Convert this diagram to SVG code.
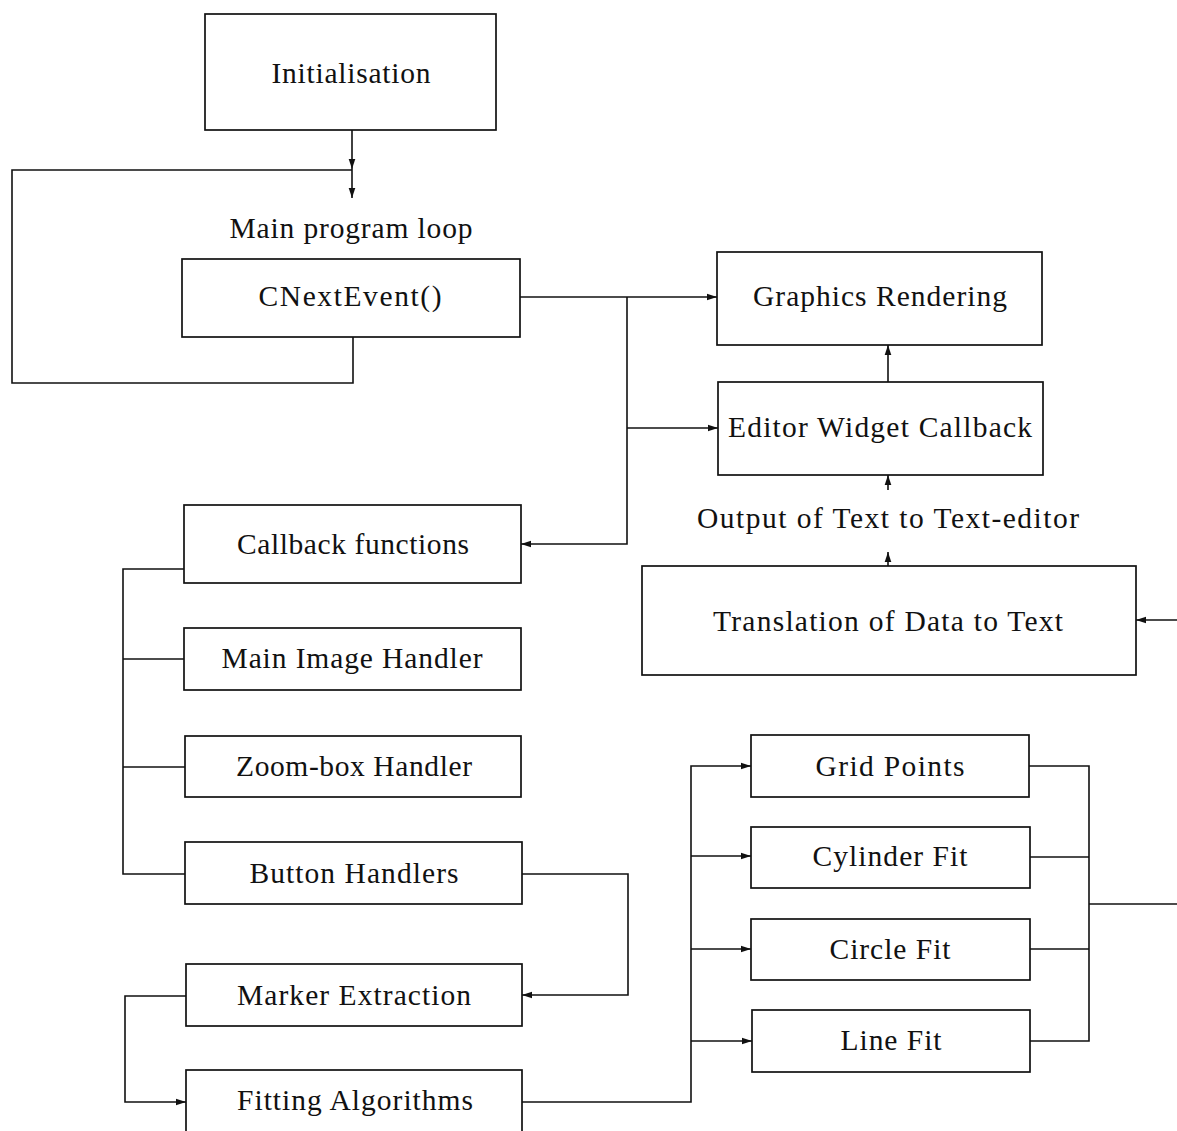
<svg xmlns="http://www.w3.org/2000/svg" width="1177" height="1131" viewBox="0 0 1177 1131">
<style>
.box{fill:#fff;stroke:#111;stroke-width:1.7}
.t{font-family:"Liberation Serif","DejaVu Serif",serif;font-size:29.5px;fill:#111;text-anchor:middle}
.c{fill:none;stroke:#111;stroke-width:1.6}
</style>
<defs>
<marker id="ah" markerUnits="userSpaceOnUse" markerWidth="11" markerHeight="8" refX="10" refY="4" orient="auto">
<path d="M0,0.7 L10,4 L0,7.3 Z" fill="#111"/>
</marker>
</defs>
<rect width="1177" height="1131" fill="#fff"/>
<g id="connectors">
<path class="c" d="M352,130 V169" marker-end="url(#ah)"/>
<path class="c" d="M352,169 V198" marker-end="url(#ah)"/>
<path class="c" d="M353,337 V383 H12 V170 H352"/>
<path class="c" d="M520,297 H717" marker-end="url(#ah)"/>
<path class="c" d="M627,297 V544 H521" marker-end="url(#ah)"/>
<path class="c" d="M627,428 H718" marker-end="url(#ah)"/>
<path class="c" d="M888,382 V345" marker-end="url(#ah)"/>
<path class="c" d="M888,490 V475" marker-end="url(#ah)"/>
<path class="c" d="M888,566 V552" marker-end="url(#ah)"/>
<path class="c" d="M1177,620 H1136" marker-end="url(#ah)"/>
<path class="c" d="M184,569 H123 V874 H185"/>
<path class="c" d="M123,659 H184"/>
<path class="c" d="M123,767 H185"/>
<path class="c" d="M522,874 H628 V995 H522" marker-end="url(#ah)"/>
<path class="c" d="M186,996 H125 V1102 H186" marker-end="url(#ah)"/>
<path class="c" d="M522,1102 H691 V766 H751" marker-end="url(#ah)"/>
<path class="c" d="M691,856 H751" marker-end="url(#ah)"/>
<path class="c" d="M691,949 H751" marker-end="url(#ah)"/>
<path class="c" d="M691,1041 H752" marker-end="url(#ah)"/>
<path class="c" d="M1029,766 H1089 V1041 H1030"/>
<path class="c" d="M1030,857 H1089"/>
<path class="c" d="M1030,949 H1089"/>
<path class="c" d="M1089,904 H1177"/>
</g>
<g id="initialisation"><rect class="box" x="205" y="14" width="291" height="116"/><text class="t" x="351" y="83" textLength="159" lengthAdjust="spacing">Initialisation</text></g>
<g id="main-loop-label"><text class="t" x="351" y="238" textLength="243" lengthAdjust="spacing">Main program loop</text></g>
<g id="cnextevent"><rect class="box" x="182" y="259" width="338" height="78"/><text class="t" x="350" y="306" textLength="183" lengthAdjust="spacing">CNextEvent()</text></g>
<g id="graphics-rendering"><rect class="box" x="717" y="252" width="325" height="93"/><text class="t" x="880" y="306" textLength="254" lengthAdjust="spacing">Graphics Rendering</text></g>
<g id="editor-widget"><rect class="box" x="718" y="382" width="325" height="93"/><text class="t" x="880" y="437" textLength="304" lengthAdjust="spacing">Editor Widget Callback</text></g>
<g id="output-label"><text class="t" x="888" y="528" textLength="382" lengthAdjust="spacing">Output of Text to Text-editor</text></g>
<g id="translation"><rect class="box" x="642" y="566" width="494" height="109"/><text class="t" x="888" y="631" textLength="350" lengthAdjust="spacing">Translation of Data to Text</text></g>
<g id="callback-functions"><rect class="box" x="184" y="505" width="337" height="78"/><text class="t" x="353" y="554" textLength="232" lengthAdjust="spacing">Callback functions</text></g>
<g id="main-image-handler"><rect class="box" x="184" y="628" width="337" height="62"/><text class="t" x="352" y="668" textLength="261" lengthAdjust="spacing">Main Image Handler</text></g>
<g id="zoom-box-handler"><rect class="box" x="185" y="736" width="336" height="61"/><text class="t" x="354" y="776" textLength="236" lengthAdjust="spacing">Zoom-box Handler</text></g>
<g id="button-handlers"><rect class="box" x="185" y="842" width="337" height="62"/><text class="t" x="354" y="883" textLength="209" lengthAdjust="spacing">Button Handlers</text></g>
<g id="marker-extraction"><rect class="box" x="186" y="964" width="336" height="62"/><text class="t" x="354" y="1005" textLength="234" lengthAdjust="spacing">Marker Extraction</text></g>
<g id="fitting-algorithms"><rect class="box" x="186" y="1070" width="336" height="63"/><text class="t" x="355" y="1110" textLength="236" lengthAdjust="spacing">Fitting Algorithms</text></g>
<g id="grid-points"><rect class="box" x="751" y="735" width="278" height="62"/><text class="t" x="890" y="776" textLength="149" lengthAdjust="spacing">Grid Points</text></g>
<g id="cylinder-fit"><rect class="box" x="751" y="827" width="279" height="61"/><text class="t" x="890" y="866" textLength="155" lengthAdjust="spacing">Cylinder Fit</text></g>
<g id="circle-fit"><rect class="box" x="751" y="919" width="279" height="61"/><text class="t" x="890" y="959" textLength="121" lengthAdjust="spacing">Circle Fit</text></g>
<g id="line-fit"><rect class="box" x="752" y="1010" width="278" height="62"/><text class="t" x="891" y="1050" textLength="101" lengthAdjust="spacing">Line Fit</text></g>
</svg>
